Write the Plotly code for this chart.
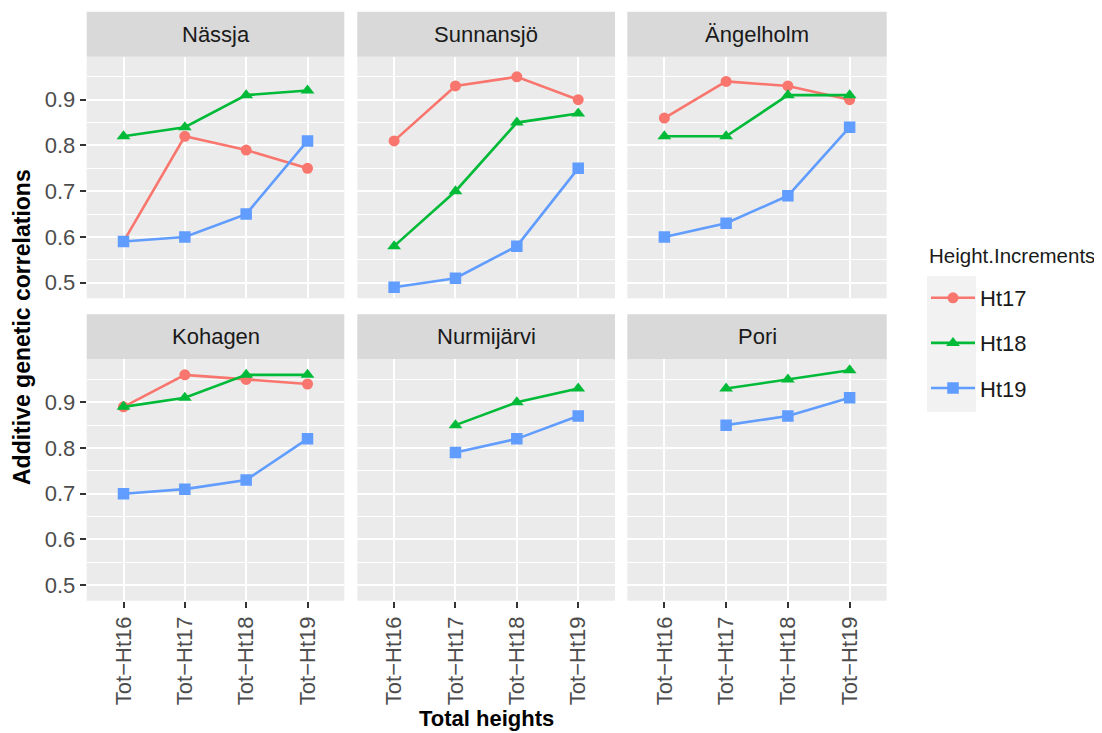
import plotly.graph_objects as go

# ---------------- data ----------------
categories = ["Tot\u2212Ht16", "Tot\u2212Ht17", "Tot\u2212Ht18", "Tot\u2212Ht19"]
sites = ["Nässja", "Sunnansjö", "Ängelholm", "Kohagen", "Nurmijärvi", "Pori"]
series_names = ["Ht17", "Ht18", "Ht19"]

ht17_values = {
    "Nässja":     [0.59, 0.82, 0.79, 0.75],
    "Sunnansjö":  [0.81, 0.93, 0.95, 0.90],
    "Ängelholm":  [0.86, 0.94, 0.93, 0.90],
    "Kohagen":    [0.89, 0.96, 0.95, 0.94],
    "Nurmijärvi": [None, None, None, None],
    "Pori":       [None, None, None, None],
}
ht18_values = {
    "Nässja":     [0.82, 0.84, 0.91, 0.92],
    "Sunnansjö":  [0.58, 0.70, 0.85, 0.87],
    "Ängelholm":  [0.82, 0.82, 0.91, 0.91],
    "Kohagen":    [0.89, 0.91, 0.96, 0.96],
    "Nurmijärvi": [None, 0.85, 0.90, 0.93],
    "Pori":       [None, 0.93, 0.95, 0.97],
}
ht19_values = {
    "Nässja":     [0.59, 0.60, 0.65, 0.81],
    "Sunnansjö":  [0.49, 0.51, 0.58, 0.75],
    "Ängelholm":  [0.60, 0.63, 0.69, 0.84],
    "Kohagen":    [0.70, 0.71, 0.73, 0.82],
    "Nurmijärvi": [None, 0.79, 0.82, 0.87],
    "Pori":       [None, 0.85, 0.87, 0.91],
}
y_tick_values = [0.5, 0.6, 0.7, 0.8, 0.9]
y_tick_labels = ["0.5", "0.6", "0.7", "0.8", "0.9"]

# ---------------- styling ----------------
OFF = 8  # page body margin of the html page
W, H = 1102 - OFF, 733 - OFF
FONT = "Liberation Sans, Arial, sans-serif"
colors = {"Ht17": "#F8766D", "Ht18": "#00BA38", "Ht19": "#619CFF"}
symbols = {"Ht17": "circle", "Ht18": "triangle-up", "Ht19": "square"}
msizes = {"Ht17": 11, "Ht18": 12, "Ht19": 11.5}
series_data = {"Ht17": ht17_values, "Ht18": ht18_values, "Ht19": ht19_values}

col_px = [(86.7, 344.3), (357.3, 615.0), (627.3, 886.7)]
row_px = [(56.7, 298.3), (359.3, 600.7)]
strip_h = 45.0


def fx(px):
    return (px - OFF) / W


def fy(py):
    return 1 - (py - OFF) / H


fig = go.Figure()
layout = dict(
    width=W, height=H, autosize=False,
    margin=dict(l=0, r=0, t=0, b=0),
    paper_bgcolor="white", plot_bgcolor="#EBEBEB",
    font=dict(family=FONT, color="#4D4D4D"),
    showlegend=True,
)

shapes = []
annotations = []
for i, site in enumerate(sites):
    r, c = divmod(i, 3)
    n = i + 1
    xa = "xaxis" if n == 1 else f"xaxis{n}"
    ya = "yaxis" if n == 1 else f"yaxis{n}"
    xref = "x" if n == 1 else f"x{n}"
    yref = "y" if n == 1 else f"y{n}"
    x0, x1 = col_px[c]
    y0, y1 = row_px[r]
    layout[xa] = dict(
        domain=[fx(x0), fx(x1)], anchor=yref,
        type="category", categoryorder="array", categoryarray=categories,
        range=[-0.6, 3.6],
        showgrid=True, gridcolor="white", gridwidth=2.2,
        zeroline=False, showline=False,
        ticks="outside" if r == 1 else "", ticklen=6, tickwidth=2, tickcolor="#333333",
        showticklabels=(r == 1), tickangle=-90,
        tickfont=dict(size=22, color="#4D4D4D", family=FONT),
    )
    layout[ya] = dict(
        domain=[fy(y1), fy(y0)], anchor=xref,
        range=[0.466, 0.994],
        tickvals=y_tick_values, ticktext=y_tick_labels,
        showgrid=True, gridcolor="white", gridwidth=2.2,
        minor=dict(dtick=0.05, tick0=0.45, showgrid=True, gridcolor="white", gridwidth=1.1, ticks=""),
        zeroline=False, showline=False,
        ticks="outside" if c == 0 else "", ticklen=6, tickwidth=2, tickcolor="#333333",
        showticklabels=(c == 0),
        tickfont=dict(size=22, color="#4D4D4D", family=FONT),
    )
    # strip
    shapes.append(dict(type="rect", xref="paper", yref="paper",
                       x0=fx(x0), x1=fx(x1), y0=fy(y0), y1=fy(y0 - strip_h),
                       fillcolor="#D9D9D9", line=dict(width=0), layer="below"))
    annotations.append(dict(text=site, xref="paper", yref="paper",
                            x=fx((x0 + x1) / 2), y=fy(y0 - strip_h / 2),
                            xanchor="center", yanchor="middle", showarrow=False,
                            font=dict(size=22, color="#1A1A1A", family=FONT)))
    for s in series_names:
        vals = series_data[s][site]
        if all(v is None for v in vals):
            continue
        fig.add_trace(go.Scatter(
            x=categories, y=vals, mode="lines+markers", name=s,
            legendgroup=s, showlegend=(i == 0),
            line=dict(color=colors[s], width=2.6),
            marker=dict(color=colors[s], symbol=symbols[s], size=msizes[s]),
            xaxis=xref, yaxis=yref, connectgaps=False,
        ))

# legend key background
shapes.append(dict(type="rect", xref="paper", yref="paper",
                   x0=fx(927), x1=fx(976), y0=fy(412), y1=fy(276),
                   fillcolor="#F2F2F2", line=dict(width=0), layer="below"))

# legend title
annotations.append(dict(text="Height.Increments", xref="paper", yref="paper",
                        x=fx(927), y=fy(255), xanchor="left", yanchor="middle",
                        showarrow=False, font=dict(size=20.5, color="#1A1A1A", family=FONT)))

# axis titles
annotations.append(dict(text="<b>Total heights</b>", xref="paper", yref="paper",
                        x=fx(486.7), y=fy(733), xanchor="center", yanchor="bottom",
                        showarrow=False, font=dict(size=22, color="black", family=FONT)))
annotations.append(dict(text="<b>Additive genetic correlations</b>", xref="paper", yref="paper",
                        x=fx(22), y=fy(327), xanchor="center", yanchor="middle", textangle=-90,
                        showarrow=False, font=dict(size=23, color="black", family=FONT)))

layout["shapes"] = shapes
layout["annotations"] = annotations
layout["legend"] = dict(
    x=fx(926), y=fy(277), xanchor="left", yanchor="top",
    bgcolor="rgba(0,0,0,0)", borderwidth=0,
    font=dict(size=22, color="#1A1A1A", family=FONT),
    tracegroupgap=13.5, itemwidth=44,
)
fig.update_layout(**layout)

fig.write_html("out.html")
